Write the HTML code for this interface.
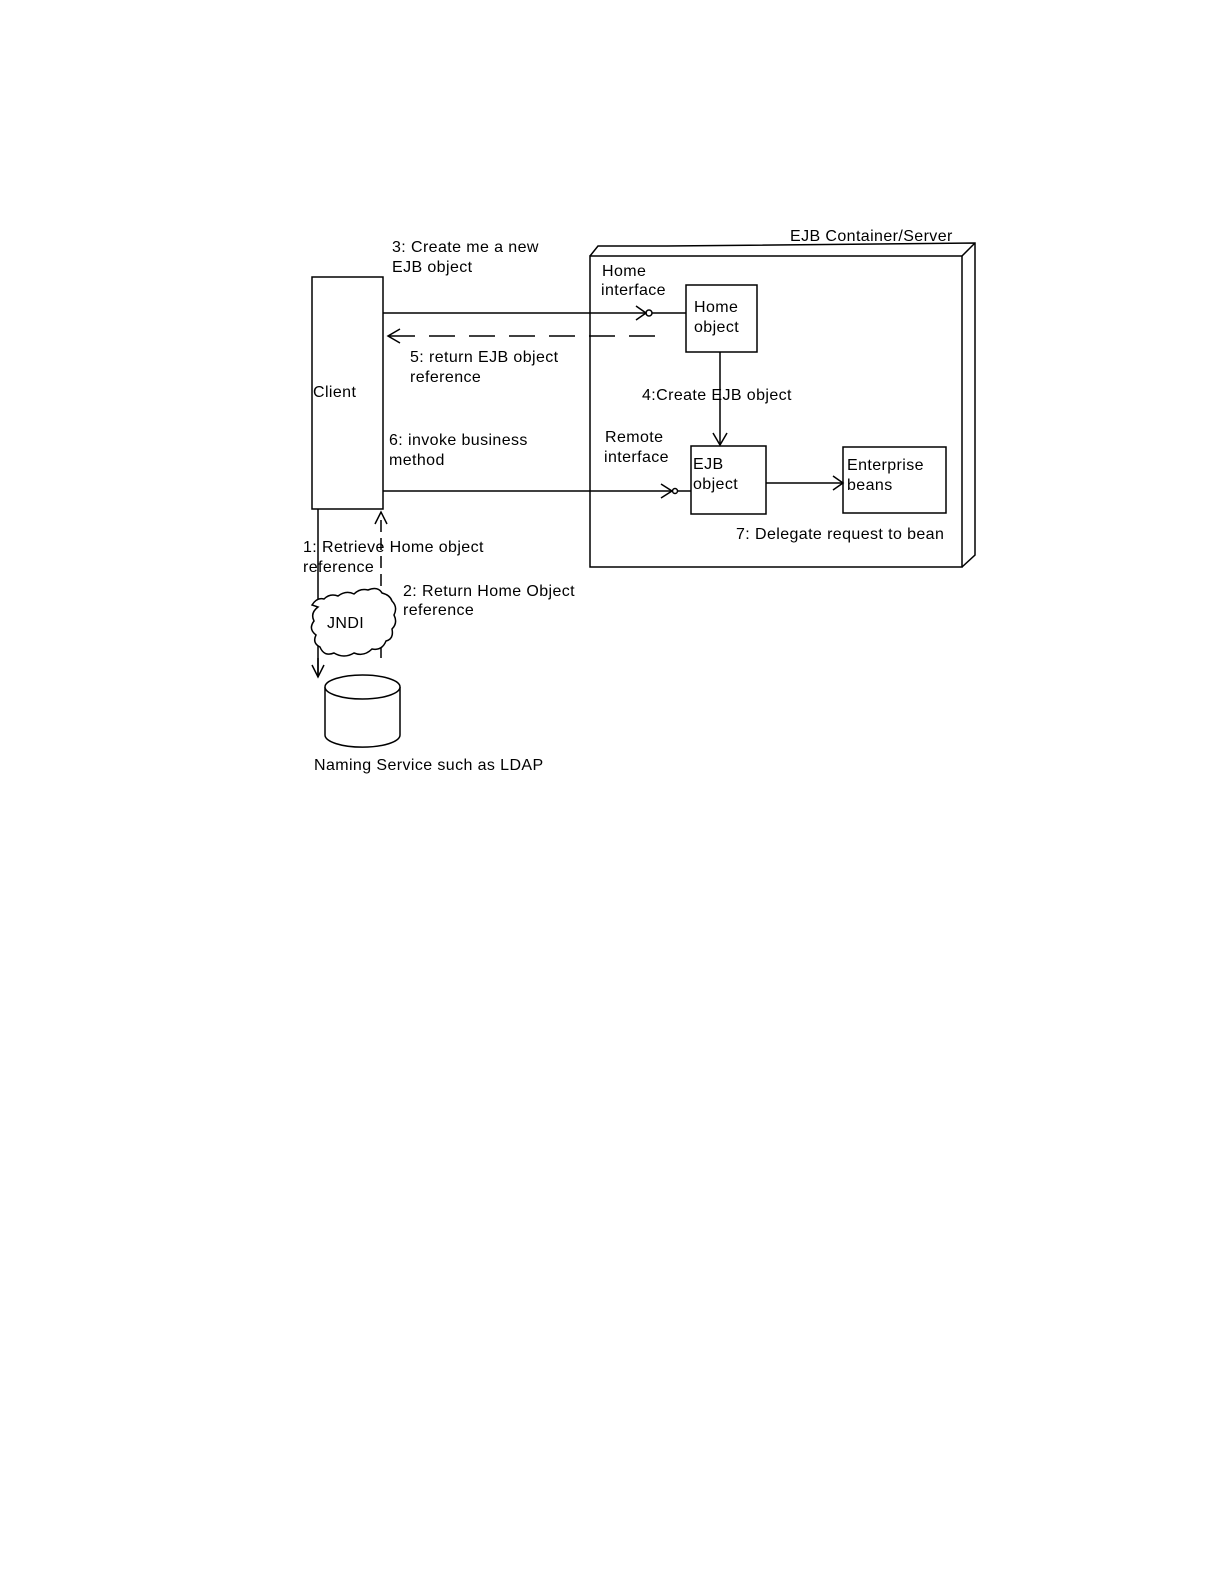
<!DOCTYPE html>
<html><head><style>body{margin:0;background:#fff}svg{display:block}text{font-family:"Liberation Sans",sans-serif;font-size:16px;letter-spacing:0.4px;fill:#000}</style></head>
<body>
<svg width="1225" height="1585" viewBox="0 0 1225 1585" xmlns="http://www.w3.org/2000/svg" fill="none" stroke="#000" stroke-width="1.5">
<rect x="0" y="0" width="1225" height="1585" fill="#fff" stroke="none"/>
<rect x="590" y="256" width="372" height="311"/>
<polyline points="590,256 598,246 667,246"/>
<polyline points="667,246 975,243 975,555 962,567"/>
<line x1="962" y1="256" x2="975" y2="243"/>
<text x="790" y="241" stroke="none">EJB Container/Server</text>
<rect x="312" y="277" width="71" height="232"/>
<text x="313" y="397" stroke="none">Client</text>
<rect x="686" y="285" width="71" height="67"/>
<text x="694" y="312" stroke="none">Home</text><text x="694" y="332" stroke="none">object</text>
<rect x="691" y="446" width="75" height="68"/>
<text x="693" y="469" stroke="none">EJB</text><text x="693" y="489" stroke="none">object</text>
<rect x="843" y="447" width="103" height="66"/>
<text x="847" y="470" stroke="none">Enterprise</text><text x="847" y="490" stroke="none">beans</text>
<line x1="383" y1="313" x2="646" y2="313"/><circle cx="649" cy="313" r="3"/><line x1="652" y1="313" x2="686" y2="313"/>
<polyline points="636,306 646,313 636,320"/>
<text x="392" y="252" stroke="none">3: Create me a new</text><text x="392" y="272" stroke="none">EJB object</text>
<text x="602" y="276" stroke="none">Home</text><text x="601" y="295" stroke="none">interface</text>
<line x1="655" y1="336" x2="388" y2="336" stroke-dasharray="26,14"/>
<polyline points="400,329 388,336 400,343"/>
<text x="410" y="362" stroke="none">5: return EJB object</text><text x="410" y="382" stroke="none">reference</text>
<line x1="720" y1="352" x2="720" y2="445"/><polyline points="713,433 720,445 727,433"/>
<text x="642" y="400" stroke="none">4:Create EJB object</text>
<line x1="383" y1="491" x2="672" y2="491"/><circle cx="675" cy="491" r="2.5"/><line x1="678" y1="491" x2="691" y2="491"/>
<polyline points="661,484 672,491 661,498"/>
<text x="389" y="445" stroke="none">6:  invoke business</text><text x="389" y="465" stroke="none">method</text>
<text x="605" y="442" stroke="none">Remote</text><text x="604" y="462" stroke="none">interface</text>
<line x1="766" y1="483" x2="843" y2="483"/><polyline points="833,476 843,483 833,490"/>
<text x="736" y="539" stroke="none">7: Delegate request to bean</text>
<line x1="318" y1="509" x2="318" y2="677"/><polyline points="312,665 318,677 324,665"/>
<text x="303" y="552" stroke="none">1: Retrieve Home object</text><text x="303" y="572" stroke="none">reference</text>
<line x1="381" y1="658" x2="381" y2="512" stroke-dasharray="12,6"/><polyline points="375,524 381,512 387,524"/>
<text x="403" y="596" stroke="none">2: Return Home Object</text><text x="403" y="615" stroke="none">reference</text>
<path d="M312,605 q5,-8 12,-6 q6,-6 14,-3 q8,-6 16,-2 q6,-6 14,-4 q10,-4 14,3 q8,2 10,8 q6,6 2,14 q4,8 -2,14 q2,10 -6,12 q-4,10 -14,8 q-8,8 -18,4 q-10,6 -20,0 q-10,4 -14,-6 q-8,-4 -4,-12 q-8,-6 -2,-14 q-4,-8 4,-14 z" fill="#fff"/>
<text x="327" y="628" stroke="none">JNDI</text>
<line x1="318" y1="658" x2="318" y2="677"/>
<path d="M325,687 L325,735 A37,12 0 0 0 400,735 L400,687"/>
<ellipse cx="362.5" cy="687" rx="37.5" ry="12" fill="#fff"/>
<text x="314" y="770" stroke="none">Naming Service such as LDAP</text>
</svg>
</body></html>
